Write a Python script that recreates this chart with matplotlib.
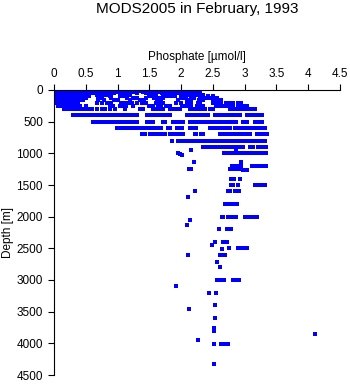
import matplotlib
matplotlib.use("Agg")
import matplotlib.pyplot as plt

plt.rcParams['font.family'] = ['Liberation Sans', 'DejaVu Sans']

# phosphate values (umol/l) (m)
p_0 = [0.0, 0.05, 0.1, 0.15, 0.2, 0.25, 0.3, 0.35, 0.4, 0.45, 0.5, 0.55, 0.6, 0.65, 0.7,
       0.75, 0.8, 0.85, 0.9, 0.95, 1.0, 1.04, 1.22, 1.35, 1.4, 1.5, 1.55, 1.6, 1.65, 1.7,
       1.75, 1.8, 1.85, 1.9, 1.95, 2.0, 2.03]
p_10 = [0.0, 0.05, 0.1, 0.15, 0.2, 0.25, 0.3, 0.35, 0.4, 0.45, 0.5, 0.55, 0.6, 0.65, 0.7,
        0.75, 0.8, 0.85, 0.9, 0.95, 1.0, 1.1, 1.15, 1.25, 1.3, 1.45, 1.5, 1.55, 1.6, 1.65,
        1.7, 1.75, 1.8, 1.85, 1.9, 1.95, 2.0, 2.05]
p_20 = [0.0, 0.05, 0.1, 0.15, 0.2, 0.25, 0.3, 0.35, 0.4, 0.45, 0.5, 0.55, 0.6, 0.7, 0.75,
        0.8, 0.85, 0.9, 0.95, 1.0, 1.05, 1.2, 1.3, 1.35, 1.5, 1.55, 1.6, 1.65, 1.7, 1.75,
        1.8, 1.85, 1.9, 1.95, 2.0, 2.05, 2.1]
p_30 = [0.0, 0.05, 0.1, 0.15, 0.2, 0.25, 0.3, 0.35, 0.4, 0.45, 0.5, 0.55, 0.6, 0.65, 0.7,
        0.8, 0.85, 0.9, 1.0, 1.1, 1.2, 1.25, 1.4, 1.45, 1.5, 1.55, 1.6, 1.65, 1.7, 1.75,
        1.8, 1.85, 1.9, 1.95, 2.0, 2.05, 2.12, 2.18]
p_50 = [0.0, 0.05, 0.1, 0.15, 0.2, 0.25, 0.3, 0.35, 0.4, 0.45, 0.5, 0.55, 0.6, 0.65, 0.75,
        0.8, 0.88, 0.95, 1.05, 1.15, 1.3, 1.45, 1.5, 1.55, 1.6, 1.7, 1.75, 1.8, 1.85, 1.9,
        1.95, 2.0, 2.05, 2.1, 2.15, 2.2, 2.25, 2.3]
p_75 = [0.0, 0.05, 0.1, 0.15, 0.2, 0.25, 0.3, 0.35, 0.4, 0.45, 0.5, 0.67, 0.72, 0.78,
        0.85, 0.9, 1.04, 1.15, 1.2, 1.5, 1.55, 1.6, 1.72, 1.77, 1.82, 1.88, 2.01, 2.06,
        2.11, 2.16, 2.22, 2.27, 2.35]
p_100 = [0.0, 0.05, 0.1, 0.15, 0.2, 0.25, 0.3, 0.35, 0.4, 0.45, 0.5, 0.55, 0.7, 0.75,
         0.88, 1.04, 1.1, 1.5, 1.55, 1.6, 1.75, 1.8, 1.85, 1.9, 2.0, 2.06, 2.15, 2.2, 2.3,
         2.35, 2.42, 2.5]
p_125 = [0.0, 0.05, 0.1, 0.15, 0.2, 0.25, 0.3, 0.35, 0.4, 0.45, 0.5, 0.72, 0.9, 1.15,
         1.25, 1.3, 1.45, 1.58, 1.65, 1.72, 2.02, 2.08, 2.15, 2.2, 2.3, 2.4, 2.45, 2.56]
p_150 = [0.0, 0.05, 0.1, 0.15, 0.2, 0.25, 0.3, 0.35, 0.4, 0.46, 0.7, 0.78, 0.95, 1.0,
         1.2, 1.35, 1.42, 1.62, 1.68, 1.95, 2.1, 2.15, 2.28, 2.35, 2.5, 2.56, 2.62]
p_200 = [0.02, 0.07, 0.12, 0.17, 0.22, 0.27, 0.32, 0.38, 0.68, 0.75, 0.83, 0.9, 1.05,
         1.1, 1.16, 1.22, 1.3, 1.38, 1.45, 1.6, 1.65, 1.72, 1.92, 2.0, 2.1, 2.15, 2.27,
         2.3, 2.5, 2.56, 2.62, 2.7, 2.75, 2.81, 2.9, 2.95]
p_250 = [0.07, 0.12, 0.17, 0.22, 0.27, 0.32, 0.36, 0.41, 0.5, 0.88, 0.93, 1.04, 1.1,
         1.14, 1.25, 1.5, 1.55, 1.64, 1.69, 1.77, 1.82, 2.01, 2.06, 2.11, 2.16, 2.25,
         2.3, 2.35, 2.55, 2.61, 2.66, 2.71, 2.77, 2.82, 2.9, 2.95, 3.0, 3.03]
p_300 = [0.15, 0.2, 0.25, 0.3, 0.35, 0.4, 0.45, 0.5, 0.55, 0.6, 0.67, 0.75, 0.8, 0.88,
         0.96, 1.12, 1.35, 1.4, 1.56, 1.62, 1.67, 1.72, 1.82, 1.88, 1.93, 1.98, 2.14,
         2.19, 2.24, 2.29, 2.34, 2.37, 2.45, 2.5, 2.77, 2.82, 2.87, 2.92, 2.97, 3.02,
         3.07, 3.12, 3.16]
p_400 = [0.3, 0.35, 0.4, 0.45, 0.5, 0.55, 0.6, 0.65, 0.7, 0.75, 0.8, 0.85, 0.9, 0.95,
         1.0, 1.04, 1.08, 1.13, 1.19, 1.24, 1.3, 1.46, 1.51, 1.56, 1.61, 1.66, 1.71,
         1.78, 1.82, 2.09, 2.14, 2.19, 2.25, 2.32, 2.37, 2.42, 2.53, 2.58, 2.63, 2.68,
         2.73, 2.78, 2.83, 2.88, 2.92, 3.03, 3.08, 3.13, 3.18, 3.23, 3.27]
p_500 = [0.62, 0.67, 0.72, 0.77, 0.82, 0.87, 0.92, 0.97, 1.02, 1.07, 1.12, 1.16, 1.21,
         1.26, 1.3, 1.46, 1.51, 1.56, 1.72, 1.75, 1.87, 1.92, 1.97, 2.03, 2.14, 2.19,
         2.24, 2.27, 2.32, 2.37, 2.42, 2.47, 2.52, 2.57, 2.62, 2.66, 2.69, 2.74, 2.79,
         2.83, 2.87, 2.97, 3.03, 3.16, 3.21, 3.27]
p_600 = [0.99, 1.04, 1.09, 1.14, 1.19, 1.24, 1.29, 1.34, 1.39, 1.44, 1.49, 1.53, 1.56,
         1.61, 1.65, 1.69, 1.79, 1.82, 1.93, 1.97, 2.01, 2.14, 2.19, 2.24, 2.45, 2.5,
         2.55, 2.6, 2.65, 2.7, 2.74, 2.77, 2.85, 2.9, 2.94, 2.97, 3.02, 3.07, 3.12,
         3.17, 3.22, 3.27, 3.32]
p_700 = [1.38, 1.43, 1.51, 1.56, 1.61, 1.66, 1.71, 1.75, 1.82, 1.87, 1.93, 1.98, 2.03,
         2.22, 2.24, 2.32, 2.35, 2.61, 2.66, 2.71, 2.76, 2.81, 2.85, 2.9, 2.95, 3.0,
         3.05, 3.08, 3.19, 3.24, 3.29, 3.35]
p_800 = [1.85, 1.95, 2.0, 2.05, 2.1, 2.15, 2.2, 2.25, 2.3, 2.35, 2.39, 2.44, 2.49, 2.54,
         2.59, 2.64, 2.69, 2.74, 2.78, 2.82, 2.85, 2.9, 2.95, 3.0, 3.05, 3.1, 3.15, 3.2,
         3.25, 3.29, 3.32]
p_900 = [2.34, 2.38, 2.43, 2.45, 2.5, 2.55, 2.6, 2.64, 2.65, 2.7, 2.75, 2.8, 2.82, 2.85,
         2.9, 2.95, 2.97, 3.08, 3.13, 3.21, 3.26, 3.3, 3.33]
p_1000 = [2.67, 2.72, 2.77, 2.82, 2.87, 2.92, 2.97, 3.02, 3.07, 3.12, 3.17, 3.22, 3.27,
          3.31, 3.34]
p_1200 = [2.8, 2.85, 2.9, 2.95, 3.11, 3.16, 3.21, 3.26, 3.3, 3.33]

# scattered observations below the standard rows: (phosphate, depth)
scatter_p = [2.16, 2.87, 1.95, 1.98, 2.01, 2.2, 2.94, 2.77, 2.82, 2.87, 2.92, 2.97, 3.03,
             2.13, 2.16, 2.79, 2.84, 2.92, 2.79, 2.81, 2.89, 3.16, 3.21, 3.26, 3.32,
             2.22, 2.74, 2.77, 2.85, 2.88, 2.91, 2.11, 2.69, 2.72, 2.79, 2.83, 2.88,
             2.64, 2.66, 2.74, 2.78, 2.82, 2.86, 3.0, 3.05, 3.11, 3.16, 3.19,
             2.14, 2.09, 2.6, 2.72, 2.75, 2.78, 2.54, 2.66, 2.69, 2.72, 2.49,
             2.65, 2.76, 2.9, 2.94, 2.98, 3.03, 2.11, 2.61, 2.65, 2.69, 2.57, 2.61,
             2.56, 2.59, 2.62, 2.68, 2.81, 2.84, 2.88, 2.91, 1.92, 2.44, 2.55, 2.54,
             2.13, 2.54, 2.52, 2.52, 4.11, 2.27, 2.52, 2.62, 2.68, 2.71, 2.74, 2.51]
scatter_depth = [940, 948, 990, 1010, 1030, 1143, 1130, 1250, 1250, 1250, 1250, 1260, 1260,
                 1248, 1248, 1411, 1411, 1411, 1500, 1500, 1500, 1500, 1500, 1500, 1500,
                 1591, 1600, 1600, 1600, 1600, 1600, 1690, 1806, 1806, 1806, 1806, 1806,
                 2006, 2006, 2006, 2006, 2006, 2006, 2006, 2006, 2006, 2006, 2006,
                 2054, 2138, 2200, 2200, 2200, 2200, 2406, 2406, 2406, 2406, 2449,
                 2517, 2500, 2500, 2500, 2500, 2500, 2602, 2602, 2602, 2602, 2717, 2801,
                 3002, 3002, 3002, 3002, 3002, 3002, 3002, 3002, 3091, 3212, 3212, 3402,
                 3465, 3607, 3755, 3802, 3860, 3955, 4008, 4015, 4015, 4015, 4015, 4333]

levels = [0, 10, 20, 30, 50, 75, 100, 125, 150, 200, 250, 300, 400, 500, 600, 700, 800,
          900, 1000, 1200]
rows = [p_0, p_10, p_20, p_30, p_50, p_75, p_100, p_125, p_150, p_200, p_250, p_300,
        p_400, p_500, p_600, p_700, p_800, p_900, p_1000, p_1200]

xs = []
ys = []
for d, row in zip(levels, rows):
    xs += row
    ys += [d] * len(row)
xs += scatter_p
ys += scatter_depth

fig = plt.figure(figsize=(3.5, 3.84), dpi=100)
ax = fig.add_axes([54 / 350, 1 - 375 / 384, 286 / 350, 285 / 384])

pts = ax.scatter(xs, ys, s=4.8, marker='s', color='#0000ff', linewidths=0)
pts.set_antialiased(False)

ax.set_xlim(0, 4.5)
ax.set_ylim(4500, 0)
ax.set_xticks([0, 0.5, 1, 1.5, 2, 2.5, 3, 3.5, 4, 4.5])
ax.set_xticklabels(['0', '0.5', '1', '1.5', '2', '2.5', '3', '3.5', '4', '4.5'])
ax.set_yticks(range(0, 4501, 500))
ax.xaxis.tick_top()
ax.xaxis.set_label_position('top')
ax.tick_params(axis='both', direction='out', length=4, width=0.8, labelsize=8.5,
               colors='black')
ax.tick_params(axis='x', pad=3)
ax.tick_params(axis='y', pad=4)
ax.spines['right'].set_visible(False)
ax.spines['bottom'].set_visible(False)
ax.spines['top'].set_linewidth(0.8)
ax.spines['left'].set_linewidth(0.8)
ax.set_xlabel('Phosphate [µmol/l]', fontsize=8.5, labelpad=6)

fig.text(8 / 350, 1 - 233 / 384, 'Depth [m]', rotation=90, fontsize=8.5,
         ha='center', va='center')
fig.text(197 / 350, 1 - 9 / 384, 'MODS2005 in February, 1993', fontsize=11,
         ha='center', va='center')

fig.savefig('out.png', dpi=100)
